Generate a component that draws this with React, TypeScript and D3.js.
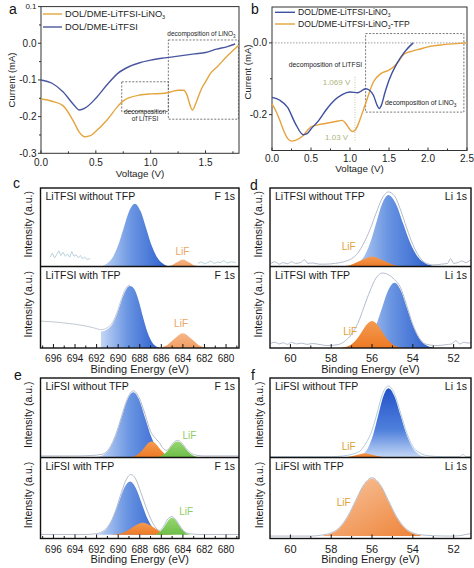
import React from "react";
import * as d3 from "d3";

type P = [number, number];

// ---------------- panel a (LSV) ----------------
const aVoltBlue = [0, 0.1, 0.2, 0.3, 0.35, 0.4, 0.5, 0.6, 0.7, 0.8, 0.9, 1.0, 1.1, 1.2, 1.3, 1.4, 1.5, 1.6, 1.7, 1.77];
const aCurBlue = [-0.1, -0.109, -0.132, -0.168, -0.182, -0.177, -0.15, -0.114, -0.082, -0.064, -0.053, -0.046, -0.041, -0.037, -0.033, -0.029, -0.025, -0.016, -0.009, -0.002];
const aVoltOrange = [0, 0.1, 0.2, 0.3, 0.35, 0.4, 0.45, 0.5, 0.6, 0.7, 0.75, 0.8, 0.9, 1.0, 1.1, 1.15, 1.2, 1.25, 1.3, 1.33, 1.36, 1.38, 1.41, 1.435, 1.47, 1.5, 1.55, 1.6, 1.7, 1.75, 1.8];
const aCurOrange = [-0.152, -0.158, -0.17, -0.215, -0.243, -0.255, -0.252, -0.24, -0.21, -0.172, -0.157, -0.149, -0.141, -0.138, -0.137, -0.135, -0.131, -0.128, -0.128, -0.14, -0.17, -0.182, -0.165, -0.145, -0.12, -0.105, -0.08, -0.066, -0.034, -0.02, -0.006];
const aXTicks = [0, 0.5, 1.0, 1.5];
const aXMinor = [0.25, 0.75, 1.25, 1.75];
const aYTicks = [0.1, 0.0, -0.1, -0.2, -0.3];
const aYMinor = [0.05, -0.05, -0.15, -0.25];
const aBoxLiTFSI = [0.736, 1.161, -0.105, -0.186];
const aBoxLiNO3 = [1.161, 1.8, 0.009, -0.207];

// ---------------- panel b (LSV) ----------------
const bVoltBlue = [0, 0.1, 0.2, 0.3, 0.4, 0.45, 0.5, 0.6, 0.7, 0.8, 0.9, 1.0, 1.1, 1.2, 1.25, 1.3, 1.35, 1.375, 1.4, 1.45, 1.5, 1.6, 1.7, 1.81];
const bCurBlue = [-0.152, -0.16, -0.18, -0.225, -0.256, -0.253, -0.24, -0.216, -0.185, -0.16, -0.144, -0.137, -0.139, -0.128, -0.132, -0.146, -0.175, -0.183, -0.175, -0.137, -0.104, -0.058, -0.025, 0.0];
const bVoltOrange = [0, 0.05, 0.1, 0.15, 0.2, 0.25, 0.3, 0.4, 0.5, 0.6, 0.7, 0.8, 0.9, 0.95, 1.0, 1.03, 1.07, 1.1, 1.15, 1.2, 1.3, 1.4, 1.5, 1.6, 1.7, 1.8, 1.9, 2.0, 2.2, 2.5];
const bCurOrange = [-0.17, -0.19, -0.216, -0.245, -0.266, -0.274, -0.272, -0.258, -0.234, -0.228, -0.224, -0.22, -0.216, -0.226, -0.242, -0.247, -0.242, -0.23, -0.2, -0.169, -0.109, -0.085, -0.076, -0.058, -0.03, -0.023, -0.017, -0.011, -0.005, 0.0];
const bXTicks = [0, 0.5, 1.0, 1.5, 2.0, 2.5];
const bXMinor = [0.25, 0.75, 1.25, 1.75, 2.25];
const bYTicks = [0.0, -0.2];
const bYMinor = [-0.1];
const bBoxLiNO3 = [1.2, 2.46, 0.026, -0.193];
const bMarkV = 1.064;

// ---------------- XPS (intensity normalised 0..1 within each sub-panel) ----------------
const fTicks = [696, 694, 692, 690, 688, 686, 684, 682, 680];
const fMinor = [697, 695, 693, 691, 689, 687, 685, 683, 681, 679];
const liTicks = [60, 58, 56, 54, 52];
const liMinor = [59, 57, 55, 53];

// c top: LiTFSI without TFP, F 1s
const cTopBlue: P[] = [[691.6, 0], [691.08, 0.035], [690.55, 0.108], [690.03, 0.26], [689.5, 0.485], [688.98, 0.706], [688.45, 0.8], [687.93, 0.706], [687.4, 0.485], [686.88, 0.26], [686.35, 0.108], [685.83, 0.035], [685.3, 0]];
const cTopLiF: P[] = [[685.65, 0], [685.1, 0.012], [684.55, 0.055], [684.0, 0.09], [683.45, 0.055], [682.9, 0.012], [682.35, 0]];
const cTopNoiseL: P[] = [[696.3, 0.12], [696.1, 0.17], [695.9, 0.11], [695.7, 0.15], [695.5, 0.2], [695.3, 0.14], [695.1, 0.18], [694.9, 0.13], [694.7, 0.16], [694.5, 0.12], [694.3, 0.19], [694.1, 0.13], [693.9, 0.15], [693.7, 0.11], [693.5, 0.14], [693.3, 0.1], [693.1, 0.12], [692.9, 0.09], [692.6, 0.1]];
const cTopNoiseR: P[] = [[682.6, 0.04], [682.3, 0.06], [682.0, 0.035], [681.7, 0.05], [681.4, 0.07], [681.1, 0.04], [680.8, 0.055], [680.5, 0.05], [680.2, 0.075], [679.9, 0.045], [679.5, 0.06], [679.1, 0.05]];
// c bottom: LiTFSI with TFP, F 1s
const cBotBlue: P[] = [[691.6, 0.2], [691.0, 0.23], [690.5, 0.3], [690.1, 0.42], [689.7, 0.58], [689.3, 0.71], [688.9, 0.76], [688.5, 0.72], [688.1, 0.58], [687.7, 0.38], [687.3, 0.2], [686.9, 0.08], [686.5, 0.02], [686.1, 0]];
const cBotLiF: P[] = [[686.4, 0], [685.6, 0.024], [684.8, 0.11], [684.0, 0.18], [683.2, 0.11], [682.4, 0.024], [681.6, 0]];
const cBotEnv: P[] = [[697.2, 0.33], [696.0, 0.32], [694.5, 0.3], [693.0, 0.27], [692.2, 0.245], [691.6, 0.225], [691.0, 0.25], [690.5, 0.32], [690.1, 0.44], [689.7, 0.6], [689.3, 0.73], [688.9, 0.775]];
// d top: LiTFSI without TFP, Li 1s
const dTopBlue: P[] = [[57.0, 0.01], [56.7, 0.04], [56.4, 0.123], [56.1, 0.295], [55.8, 0.552], [55.5, 0.803], [55.2, 0.91], [54.84, 0.803], [54.48, 0.552], [54.12, 0.295], [53.76, 0.123], [53.4, 0.04], [53.04, 0.01]];
const dTopLiF: P[] = [[57.65, 0], [57.1, 0.017], [56.55, 0.077], [56.0, 0.127], [55.45, 0.077], [54.9, 0.017], [54.35, 0]];
const dTopEnv: P[] = [[60.95, 0.04], [60.75, 0.06], [60.55, 0.03], [60.35, 0.05], [60.15, 0.035], [59.95, 0.06], [59.75, 0.04], [59.5, 0.05], [59.3, 0.085], [59.15, 0.04], [58.9, 0.045], [58.6, 0.03], [58.3, 0.03], [57.8, 0.04], [57.4, 0.06], [57.0, 0.1], [56.7, 0.17], [56.4, 0.3], [56.1, 0.47], [55.8, 0.68], [55.5, 0.87], [55.2, 0.95], [54.9, 0.9], [54.6, 0.72], [54.3, 0.49], [54.0, 0.28], [53.7, 0.13], [53.4, 0.05], [53.0, 0.02], [52.6, 0.03], [52.3, 0.04], [52.15, 0.1], [52.0, 0.04], [51.8, 0.05], [51.6, 0.07], [51.4, 0.05], [51.2, 0.08]];
// d bottom: LiTFSI with TFP, Li 1s
const dBotBlue: P[] = [[56.76, 0.009], [56.45, 0.035], [56.14, 0.108], [55.83, 0.26], [55.52, 0.485], [55.21, 0.706], [54.9, 0.8], [54.59, 0.706], [54.28, 0.485], [53.97, 0.26], [53.66, 0.108], [53.35, 0.035], [53.04, 0.009]];
const dBotLiF: P[] = [[57.5, 0.004], [57.25, 0.014], [57.0, 0.045], [56.75, 0.107], [56.5, 0.2], [56.25, 0.291], [56.0, 0.33], [55.75, 0.291], [55.5, 0.2], [55.25, 0.107], [55.0, 0.045], [54.75, 0.014], [54.5, 0.004]];
const dBotEnv: P[] = [[60.95, 0.06], [60.75, 0.07], [60.55, 0.05], [60.35, 0.065], [60.15, 0.045], [59.95, 0.07], [59.7, 0.05], [59.45, 0.06], [59.2, 0.045], [58.9, 0.055], [58.5, 0.04], [58.2, 0.03], [57.7, 0.04], [57.3, 0.09], [57.0, 0.17], [56.7, 0.3], [56.4, 0.5], [56.1, 0.7], [55.8, 0.86], [55.5, 0.92], [55.2, 0.9], [54.9, 0.84], [54.6, 0.74], [54.3, 0.52], [54.0, 0.29], [53.7, 0.13], [53.4, 0.05], [52.8, 0.03], [52.4, 0.04], [52.1, 0.05], [51.9, 0.09], [51.7, 0.05], [51.5, 0.07], [51.3, 0.06], [51.15, 0.07]];
// e top: LiFSI without TFP, F 1s
const eTopBlue: P[] = [[691.9, 0.009], [691.35, 0.036], [690.8, 0.111], [690.25, 0.266], [689.7, 0.497], [689.15, 0.724], [688.6, 0.82], [688.05, 0.724], [687.5, 0.497], [686.95, 0.266], [686.4, 0.111], [685.85, 0.036], [685.3, 0.009]];
const eTopMid: P[] = [[689.0, 0.002], [688.65, 0.009], [688.3, 0.027], [687.95, 0.065], [687.6, 0.121], [687.25, 0.177], [686.9, 0.2], [686.55, 0.177], [686.2, 0.121], [685.85, 0.065], [685.5, 0.027], [685.15, 0.009], [684.8, 0.002]];
const eTopLiF: P[] = [[686.6, 0.002], [686.25, 0.009], [685.9, 0.027], [685.55, 0.065], [685.2, 0.121], [684.85, 0.177], [684.5, 0.2], [684.15, 0.177], [683.8, 0.121], [683.45, 0.065], [683.1, 0.027], [682.75, 0.009], [682.4, 0.002]];
const eTopEnv: P[] = [[697.2, 0.02], [694.0, 0.02], [692.5, 0.025], [691.5, 0.04], [690.8, 0.12], [690.25, 0.28], [689.7, 0.51], [689.15, 0.74], [688.6, 0.84], [688.05, 0.75], [687.5, 0.54], [687.0, 0.33], [686.6, 0.25], [686.2, 0.19], [685.8, 0.11], [685.5, 0.09], [685.2, 0.13], [684.85, 0.19], [684.5, 0.215], [684.15, 0.19], [683.8, 0.13], [683.3, 0.06], [682.8, 0.03], [682.0, 0.02], [678.8, 0.02]];
// e bottom: LiFSI with TFP, F 1s
const eBotBlue: P[] = [[692.05, 0.052], [691.5, 0.074], [691.0, 0.134], [690.48, 0.259], [689.95, 0.445], [689.43, 0.627], [688.9, 0.705], [688.38, 0.627], [687.85, 0.445], [687.33, 0.259], [686.8, 0.134], [686.28, 0.074], [685.75, 0.052]];
const eBotMid: P[] = [[690.7, 0.047], [690.2, 0.052], [689.7, 0.065], [689.2, 0.094], [688.7, 0.136], [688.2, 0.177], [687.7, 0.195], [687.2, 0.177], [686.7, 0.136], [686.2, 0.094], [685.7, 0.065], [685.2, 0.052], [684.7, 0.047]];
const eBotLiF: P[] = [[686.8, 0.047], [686.5, 0.054], [686.2, 0.073], [685.9, 0.113], [685.6, 0.172], [685.3, 0.23], [685.0, 0.255], [684.7, 0.23], [684.4, 0.172], [684.1, 0.113], [683.8, 0.073], [683.5, 0.054], [683.2, 0.047]];
const eBotEnv: P[] = [[697.2, 0.05], [693.0, 0.05], [692.0, 0.06], [691.3, 0.1], [690.7, 0.2], [690.2, 0.36], [689.7, 0.57], [689.2, 0.74], [688.85, 0.79], [688.4, 0.74], [687.9, 0.57], [687.4, 0.38], [686.9, 0.22], [686.5, 0.13], [686.15, 0.1], [685.8, 0.15], [685.4, 0.24], [685.0, 0.27], [684.7, 0.24], [684.3, 0.16], [683.9, 0.09], [683.4, 0.06], [682.5, 0.05], [678.8, 0.05]];
// f top: LiFSI without TFP, Li 1s
const fTopBlue: P[] = [[56.7, 0.01], [56.45, 0.038], [56.2, 0.118], [55.95, 0.282], [55.7, 0.528], [55.45, 0.768], [55.2, 0.87], [54.9, 0.768], [54.6, 0.528], [54.3, 0.282], [54.0, 0.118], [53.7, 0.038], [53.4, 0.01]];
const fTopLiF: P[] = [[57.55, 0], [57.15, 0.008], [56.75, 0.033], [56.35, 0.055], [55.95, 0.033], [55.55, 0.008], [55.15, 0]];
const fTopEnv: P[] = [[61, 0.01], [58.0, 0.01], [57.4, 0.02], [57.0, 0.04], [56.6, 0.08], [56.3, 0.18], [56.0, 0.34], [55.75, 0.56], [55.5, 0.79], [55.2, 0.9], [54.9, 0.8], [54.6, 0.56], [54.3, 0.31], [54.0, 0.14], [53.6, 0.05], [53.2, 0.02], [52.5, 0.01], [51.7, 0.01], [51.55, 0.04], [51.4, 0.01], [51.15, 0.01]];
// f bottom: LiFSI with TFP, Li 1s
const fBotLiF: P[] = [[58.4, 0.038], [58.0, 0.061], [57.6, 0.126], [57.2, 0.261], [56.8, 0.461], [56.4, 0.657], [56.0, 0.74], [55.6, 0.657], [55.2, 0.461], [54.8, 0.261], [54.4, 0.126], [54.0, 0.061], [53.6, 0.038]];
const fBotEnv: P[] = [[61, 0.03], [59.0, 0.03], [58.4, 0.045], [58.0, 0.07], [57.6, 0.135], [57.2, 0.27], [56.8, 0.47], [56.4, 0.665], [56.0, 0.75], [55.6, 0.665], [55.2, 0.47], [54.8, 0.27], [54.4, 0.135], [54.0, 0.07], [53.6, 0.045], [53.0, 0.035], [52.2, 0.03], [51.7, 0.035], [51.4, 0.05], [51.15, 0.06]];

const FONT = "'Liberation Sans', Arial, Helvetica, sans-serif";
const zip = (xs: number[], ys: number[]): P[] => xs.map((x, i) => [x, ys[i]] as P);

type AreaSpec = { data: P[]; fill: string; base?: number };
type LineSpec = { data: P[]; stroke: string; width: number; smooth: boolean };
type SubSpec = {
  id: string;
  x: d3.ScaleLinear<number, number>;
  top: number;
  bottom: number;
  areas: AreaSpec[];
  lines: LineSpec[];
  title: string;
  core: string;
  ylabel: string;
  ylabelX: number;
  lif: { e: number; i: number; color: string };
};

function SubPanel({ s }: { s: SubSpec }) {
  const y = d3.scaleLinear().domain([0, 1]).range([s.bottom, s.top]);
  const [x0, x1] = s.x.range();
  const areaGen = (base: number) =>
    d3.area<P>().x((d) => s.x(d[0])).y0(y(base)).y1((d) => y(d[1])).curve(d3.curveMonotoneX);
  const lineGen = (smooth: boolean) =>
    d3.line<P>().x((d) => s.x(d[0])).y((d) => y(d[1])).curve(smooth ? d3.curveMonotoneX : d3.curveLinear);
  const mid = (s.top + s.bottom) / 2;
  return (
    <g>
      <clipPath id={s.id}>
        <rect x={x0} y={s.top} width={x1 - x0} height={s.bottom - s.top} />
      </clipPath>
      <g clipPath={`url(#${s.id})`}>
        {s.areas.map((a, i) => (
          <path key={i} d={areaGen(a.base ?? 0)(a.data) || ""} fill={a.fill} />
        ))}
        {s.lines.map((l, i) => (
          <path key={i} d={lineGen(l.smooth)(l.data) || ""} fill="none" stroke={l.stroke} strokeWidth={l.width} />
        ))}
      </g>
      <text x={x0 + 5} y={s.top + 12} fontSize={10.5} fill="#1a1a1a">{s.title}</text>
      <text x={x1 - 4} y={s.top + 12} fontSize={10.5} textAnchor="end" fill="#1a1a1a">{s.core}</text>
      <text x={s.x(s.lif.e)} y={y(s.lif.i)} dy="0.35em" textAnchor="middle" fontSize={10} fill={s.lif.color}>LiF</text>
      <text transform={`translate(${s.ylabelX},${mid - 3}) rotate(-90)`} textAnchor="middle" fontSize={10.5} fill="#1a1a1a">
        {s.ylabel}
      </text>
    </g>
  );
}

function XpsFrame({ x, top, mid, bottom, ticks, minor, fs }: { x: d3.ScaleLinear<number, number>; top: number; mid: number; bottom: number; ticks: number[]; minor: number[]; fs: number }) {
  const [x0, x1] = x.range();
  return (
    <g>
      <rect x={x0} y={top} width={x1 - x0} height={bottom - top} fill="none" stroke="#111" strokeWidth={1.4} />
      <line x1={x0} x2={x1} y1={mid} y2={mid} stroke="#111" strokeWidth={1.4} />
      {ticks.map((t) => (
        <g key={t}>
          <line x1={x(t)} x2={x(t)} y1={bottom} y2={bottom - 4} stroke="#111" strokeWidth={1} />
          <text x={x(t)} y={bottom + 14} textAnchor="middle" fontSize={fs} fill="#1a1a1a">{t}</text>
        </g>
      ))}
      {minor.map((t) => (
        <line key={t} x1={x(t)} x2={x(t)} y1={bottom} y2={bottom - 2.5} stroke="#111" strokeWidth={1} />
      ))}
      <text x={(x0 + x1) / 2} y={bottom + 24.5} textAnchor="middle" fontSize={11} fill="#1a1a1a">Binding Energy (eV)</text>
    </g>
  );
}

const Sub3 = ({ fs = 6 }: { fs?: number }) => (
  <tspan fontSize={fs} dy={2}>3</tspan>
);

export default function App() {
  // ---- scales ----
  const ax = d3.scaleLinear().domain([0, 1.805]).range([41, 239]);
  const ay = d3.scaleLinear().domain([-0.3, 0.1]).range([153.3, 6.6]);
  const bx = d3.scaleLinear().domain([0, 2.5]).range([272, 467]);
  const by = d3.scaleLinear().domain([-0.3, 0.1]).range([150.5, 7]);
  const xF = d3.scaleLinear().domain([697.2, 678.8]).range([40.5, 239]);
  const xLi = d3.scaleLinear().domain([61, 51.15]).range([270, 471]);

  const lineA = d3.line<P>().x((d) => ax(d[0])).y((d) => ay(d[1])).curve(d3.curveMonotoneX);
  const lineB = d3.line<P>().x((d) => bx(d[0])).y((d) => by(d[1])).curve(d3.curveMonotoneX);

  const cdTop = 188, cdMid = 266.5, cdBot = 348;
  const efTop = 378, efMid = 457.5, efBot = 538.5;

  const env = "#b4bccb";
  const noise = "#a9c8d3";

  const subs: SubSpec[] = [
    { id: "c1", x: xF, top: cdTop, bottom: cdMid, title: "LiTFSI without TFP", core: "F 1s", ylabel: "Intensity (a.u.)", ylabelX: 32,
      areas: [{ data: cTopBlue, fill: "url(#blueH)" }, { data: cTopLiF, fill: "url(#orangeL)" }],
      lines: [{ data: cTopNoiseL, stroke: noise, width: 0.8, smooth: false }, { data: cTopNoiseR, stroke: noise, width: 0.8, smooth: false }],
      lif: { e: 684.05, i: 0.19, color: "#e9a566" } },
    { id: "c2", x: xF, top: cdMid, bottom: cdBot, title: "LiTFSI with TFP", core: "F 1s", ylabel: "Intensity (a.u.)", ylabelX: 32,
      areas: [{ data: cBotBlue, fill: "url(#blueH)" }, { data: cBotLiF, fill: "url(#orangeL)" }],
      lines: [{ data: cBotEnv, stroke: "#c2c8d2", width: 1, smooth: true }],
      lif: { e: 684.17, i: 0.3, color: "#e9a566" } },
    { id: "d1", x: xLi, top: cdTop, bottom: cdMid, title: "LiTFSI without TFP", core: "Li 1s", ylabel: "Intensity (a.u.)", ylabelX: 262,
      areas: [{ data: dTopBlue, fill: "url(#blueH)" }, { data: dTopLiF, fill: "url(#orangeG)" }],
      lines: [{ data: dTopEnv, stroke: env, width: 1, smooth: true }],
      lif: { e: 57.14, i: 0.25, color: "#e3a23c" } },
    { id: "d2", x: xLi, top: cdMid, bottom: cdBot, title: "LiTFSI with TFP", core: "Li 1s", ylabel: "Intesnity (a.u.)", ylabelX: 262,
      areas: [{ data: dBotBlue, fill: "url(#blueH)" }, { data: dBotLiF, fill: "url(#orangeG)" }],
      lines: [{ data: dBotEnv, stroke: env, width: 1, smooth: true }],
      lif: { e: 57.07, i: 0.2, color: "#e3a23c" } },
    { id: "e1", x: xF, top: efTop, bottom: efMid, title: "LiFSI without TFP", core: "F 1s", ylabel: "Intensity (a.u.)", ylabelX: 32,
      areas: [{ data: eTopBlue, fill: "url(#blueH)" }, { data: eTopMid, fill: "url(#orangeG)" }, { data: eTopLiF, fill: "url(#greenG)" }],
      lines: [{ data: eTopEnv, stroke: env, width: 1, smooth: true }],
      lif: { e: 683.4, i: 0.28, color: "#8ecb62" } },
    { id: "e2", x: xF, top: efMid, bottom: efBot, title: "LiFSI with TFP", core: "F 1s", ylabel: "Intensity (a.u.)", ylabelX: 32,
      areas: [{ data: eBotBlue, fill: "url(#blueH)", base: 0.045 }, { data: eBotMid, fill: "url(#orangeG)", base: 0.045 }, { data: eBotLiF, fill: "url(#greenG)", base: 0.045 }],
      lines: [{ data: eBotEnv, stroke: env, width: 1, smooth: true }],
      lif: { e: 683.7, i: 0.33, color: "#8ecb62" } },
    { id: "f1", x: xLi, top: efTop, bottom: efMid, title: "LiFSI without TFP", core: "Li 1s", ylabel: "Intensity (a.u.)", ylabelX: 263,
      areas: [{ data: fTopBlue, fill: "url(#blueV)" }, { data: fTopLiF, fill: "url(#orangeG)" }],
      lines: [{ data: fTopEnv, stroke: "#b3cadb", width: 1, smooth: true }],
      lif: { e: 57.14, i: 0.14, color: "#dea232" } },
    { id: "f2", x: xLi, top: efMid, bottom: efBot, title: "LiFSI with TFP", core: "Li 1s", ylabel: "Intensity (a.u.)", ylabelX: 263,
      areas: [{ data: fBotLiF, fill: "url(#orangeF)", base: 0.03 }],
      lines: [{ data: fBotEnv, stroke: env, width: 1, smooth: true }],
      lif: { e: 57.39, i: 0.45, color: "#dea232" } },
  ];

  const blueA = "#4a579f";
  const orangeA = "#e3a53d";

  return (
    <svg width={474} height={568} style={{ position: "absolute", left: 0, top: 0, background: "#fff" }} fontFamily={FONT}>
      <defs>
        <linearGradient id="blueH" x1="0" y1="0" x2="1" y2="0">
          <stop offset="0%" stopColor="#c3d6f5" />
          <stop offset="45%" stopColor="#6a95e2" />
          <stop offset="100%" stopColor="#2b5dcc" />
        </linearGradient>
        <linearGradient id="blueV" x1="0" y1="0" x2="0" y2="1">
          <stop offset="0%" stopColor="#2453c9" />
          <stop offset="60%" stopColor="#4f80dc" />
          <stop offset="100%" stopColor="#c5d8f6" />
        </linearGradient>
        <linearGradient id="orangeG" x1="0" y1="0" x2="0" y2="1">
          <stop offset="0%" stopColor="#f39a52" />
          <stop offset="100%" stopColor="#ee7a24" />
        </linearGradient>
        <linearGradient id="orangeL" x1="0" y1="0" x2="0" y2="1">
          <stop offset="0%" stopColor="#f5b68a" />
          <stop offset="100%" stopColor="#f29e62" />
        </linearGradient>
        <linearGradient id="orangeF" x1="0" y1="0" x2="1" y2="1">
          <stop offset="0%" stopColor="#f8c7a2" />
          <stop offset="100%" stopColor="#ee8236" />
        </linearGradient>
        <linearGradient id="greenG" x1="0" y1="0" x2="0" y2="1">
          <stop offset="0%" stopColor="#96d670" />
          <stop offset="100%" stopColor="#6dbd48" />
        </linearGradient>
      </defs>

      {/* ---------------- panel a ---------------- */}
      <g>
        <rect x={ax.range()[0]} y={ay.range()[1]} width={ax.range()[1] - ax.range()[0]} height={ay.range()[0] - ay.range()[1]} fill="none" stroke="#333" strokeWidth={1} />
        <rect x={ax(aBoxLiTFSI[0])} y={ay(aBoxLiTFSI[2])} width={ax(aBoxLiTFSI[1]) - ax(aBoxLiTFSI[0])} height={ay(aBoxLiTFSI[3]) - ay(aBoxLiTFSI[2])} fill="none" stroke="#555" strokeWidth={0.8} strokeDasharray="2,1.5" />
        <rect x={ax(aBoxLiNO3[0])} y={ay(aBoxLiNO3[2])} width={ax(aBoxLiNO3[1]) - ax(aBoxLiNO3[0])} height={ay(aBoxLiNO3[3]) - ay(aBoxLiNO3[2])} fill="none" stroke="#555" strokeWidth={0.8} strokeDasharray="2,1.5" />
        <path d={lineA(zip(aVoltOrange, aCurOrange)) || ""} fill="none" stroke={orangeA} strokeWidth={1.4} />
        <path d={lineA(zip(aVoltBlue, aCurBlue)) || ""} fill="none" stroke={blueA} strokeWidth={1.4} />
        <text x={ax(aBoxLiNO3[0]) - 1} y={ay(aBoxLiNO3[2]) - 4} fontSize={6.5} fill="#222">decomposition of LiNO<Sub3 fs={4.5} /></text>
        <text x={(ax(aBoxLiTFSI[0]) + ax(aBoxLiTFSI[1])) / 2} y={ay(aBoxLiTFSI[3]) + 2.5} textAnchor="middle" fontSize={6.5} fill="#222">decomposition</text>
        <text x={(ax(aBoxLiTFSI[0]) + ax(aBoxLiTFSI[1])) / 2} y={ay(aBoxLiTFSI[3]) + 9.5} textAnchor="middle" fontSize={6.5} fill="#222">of LiTFSI</text>
        {aXTicks.map((t) => (
          <g key={t}>
            <line x1={ax(t)} x2={ax(t)} y1={ay(-0.3)} y2={ay(-0.3) - 3} stroke="#333" />
            <text x={ax(t)} y={ay(-0.3) + 12.7} textAnchor="middle" fontSize={10} fill="#222">{t.toFixed(1)}</text>
          </g>
        ))}
        {aXMinor.map((t) => <line key={t} x1={ax(t)} x2={ax(t)} y1={ay(-0.3)} y2={ay(-0.3) - 2} stroke="#333" />)}
        {aYTicks.map((t) => (
          <g key={t}>
            <line x1={ax(0) - 3} x2={ax(0)} y1={ay(t)} y2={ay(t)} stroke="#333" />
            <text x={ax(0) - 4.5} y={ay(t)} dy="0.35em" textAnchor="end" fontSize={t === 0.1 ? 8 : 10} fill="#222">{t.toFixed(1)}</text>
          </g>
        ))}
        {aYMinor.map((t) => <line key={t} x1={ax(0) - 2} x2={ax(0)} y1={ay(t)} y2={ay(t)} stroke="#333" />)}
        <text x={(ax(0) + ax(1.805)) / 2} y={ay(-0.3) + 24} textAnchor="middle" fontSize={9.8} fill="#222">Voltage (V)</text>
        <text transform={`translate(15,${(ay(0.1) + ay(-0.3)) / 2}) rotate(-90)`} textAnchor="middle" fontSize={9.5} fill="#222">Current (mA)</text>
        <line x1={43} x2={62} y1={14} y2={14} stroke={orangeA} strokeWidth={1.4} />
        <text x={65} y={14} dy="0.35em" fontSize={9.3} fill="#222">DOL/DME-LiTFSI-LiNO<Sub3 fs={5.5} /></text>
        <line x1={43} x2={62} y1={27} y2={27} stroke={blueA} strokeWidth={1.4} />
        <text x={65} y={27} dy="0.35em" fontSize={9.3} fill="#222">DOL/DME-LiTFSI</text>
        <text x={9} y={14} fontSize={14} fill="#111">a</text>
      </g>

      {/* ---------------- panel b ---------------- */}
      <g>
        <rect x={bx.range()[0]} y={by.range()[1]} width={bx.range()[1] - bx.range()[0]} height={by.range()[0] - by.range()[1]} fill="none" stroke="#333" strokeWidth={1} />
        <line x1={bx(0)} x2={bx(2.5)} y1={by(0)} y2={by(0)} stroke="#888" strokeWidth={0.8} strokeDasharray="1.5,1.5" />
        <rect x={bx(bBoxLiNO3[0])} y={by(bBoxLiNO3[2])} width={bx(bBoxLiNO3[1]) - bx(bBoxLiNO3[0])} height={by(bBoxLiNO3[3]) - by(bBoxLiNO3[2])} fill="none" stroke="#555" strokeWidth={0.8} strokeDasharray="2,1.5" />
        <line x1={bx(bMarkV)} x2={bx(bMarkV)} y1={by(-0.095)} y2={by(-0.272)} stroke="#b9c08f" strokeWidth={0.9} strokeDasharray="1,1.5" />
        <path d={lineB(zip(bVoltOrange, bCurOrange)) || ""} fill="none" stroke="#e6a23c" strokeWidth={1.4} />
        <path d={lineB(zip(bVoltBlue, bCurBlue)) || ""} fill="none" stroke="#3d4f9f" strokeWidth={1.4} />
        <text x={bx(1.155)} y={67} textAnchor="end" fontSize={6.8} fill="#222">decomposition of LiTFSI</text>
        <text x={bx(1.45)} y={105} fontSize={6.8} fill="#222">decomposition of LiNO<Sub3 fs={4.8} /></text>
        <text x={bx(0.65)} y={84.5} fontSize={8} fill="#aeb47c">1.069 V</text>
        <text x={bx(0.68)} y={139.5} fontSize={8} fill="#aeb47c">1.03 V</text>
        {bXTicks.map((t) => (
          <g key={t}>
            <line x1={bx(t)} x2={bx(t)} y1={by(-0.3)} y2={by(-0.3) - 3} stroke="#333" />
            <text x={bx(t)} y={by(-0.3) + 11} textAnchor="middle" fontSize={10} fill="#222">{t.toFixed(1)}</text>
          </g>
        ))}
        {bXMinor.map((t) => <line key={t} x1={bx(t)} x2={bx(t)} y1={by(-0.3)} y2={by(-0.3) - 2} stroke="#333" />)}
        {bYTicks.map((t) => (
          <g key={t}>
            <line x1={bx(0) - 3} x2={bx(0)} y1={by(t)} y2={by(t)} stroke="#333" />
            <text x={bx(0) - 5} y={by(t)} dy="0.35em" textAnchor="end" fontSize={10} fill="#222">{t.toFixed(1)}</text>
          </g>
        ))}
        {bYMinor.map((t) => <line key={t} x1={bx(0) - 2} x2={bx(0)} y1={by(t)} y2={by(t)} stroke="#333" />)}
        <text x={(bx(0) + bx(2.5)) / 2 - 10} y={by(-0.3) + 21.5} textAnchor="middle" fontSize={9.8} fill="#222">Voltage (V)</text>
        <text transform={`translate(251,72) rotate(-90)`} textAnchor="middle" fontSize={9.5} fill="#222">Current (mA)</text>
        <line x1={275} x2={295} y1={12.3} y2={12.3} stroke="#3d4f9f" strokeWidth={1.4} />
        <text x={298} y={12.3} dy="0.35em" fontSize={8.6} fill="#222">DOL/DME-LiTFSI-LiNO<Sub3 fs={5} /></text>
        <line x1={275} x2={295} y1={24} y2={24} stroke="#e6a23c" strokeWidth={1.4} />
        <text x={298} y={24} dy="0.35em" fontSize={8.6} fill="#222">DOL/DME-LiTFSI-LiNO<Sub3 fs={5} /><tspan dy={-2}>-TFP</tspan></text>
        <text x={251} y={14} fontSize={14} fill="#111">b</text>
      </g>

      {/* ---------------- XPS panels ---------------- */}
      {subs.map((s) => <SubPanel key={s.id} s={s} />)}
      <XpsFrame x={xF} top={cdTop} mid={cdMid} bottom={cdBot} ticks={fTicks} minor={fMinor} fs={10} />
      <XpsFrame x={xLi} top={cdTop} mid={cdMid} bottom={cdBot} ticks={liTicks} minor={liMinor} fs={11} />
      <XpsFrame x={xF} top={efTop} mid={efMid} bottom={efBot} ticks={fTicks} minor={fMinor} fs={10} />
      <XpsFrame x={xLi} top={efTop} mid={efMid} bottom={efBot} ticks={liTicks} minor={liMinor} fs={11} />
      <text x={13} y={188} fontSize={14} fill="#111">c</text>
      <text x={250} y={190} fontSize={14} fill="#111">d</text>
      <text x={14} y={380} fontSize={14} fill="#111">e</text>
      <text x={251} y={380} fontSize={14} fill="#111">f</text>
    </svg>
  );
}
